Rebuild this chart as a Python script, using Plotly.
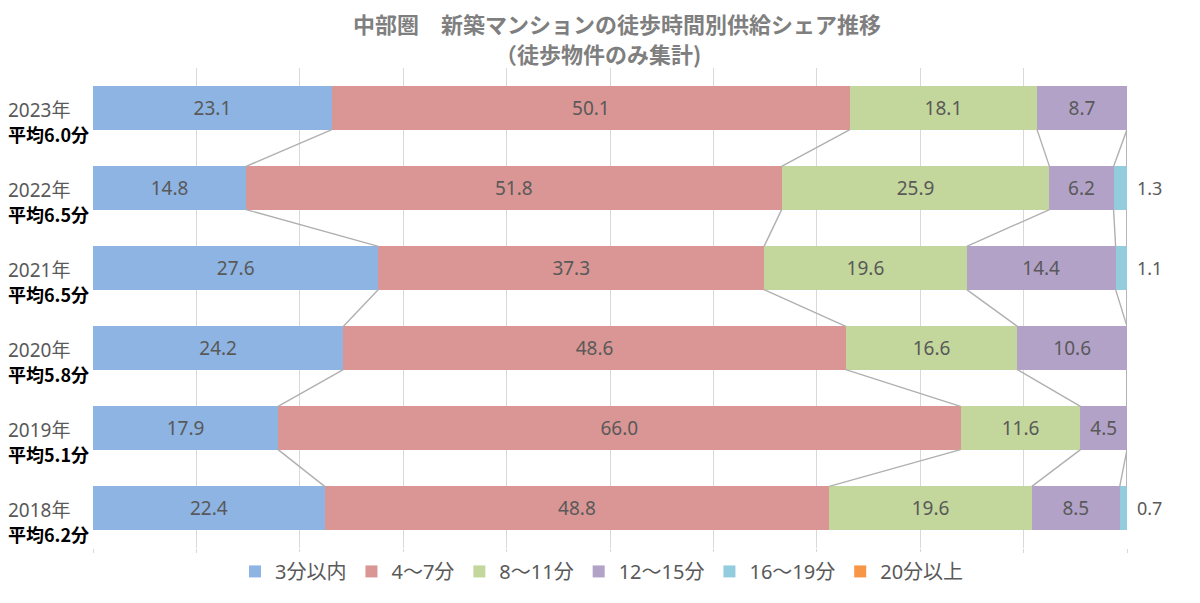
import plotly.graph_objects as go

# --- data ---
years = ["2023年", "2022年", "2021年", "2020年", "2019年", "2018年"]
averages = ["平均6.0分", "平均6.5分", "平均6.5分", "平均5.8分", "平均5.1分", "平均6.2分"]
series_names = ["3分以内", "4～7分", "8～11分", "12～15分", "16～19分", "20分以上"]
share_3 = [23.1, 14.8, 27.6, 24.2, 17.9, 22.4]
share_4_7 = [50.1, 51.8, 37.3, 48.6, 66.0, 48.8]
share_8_11 = [18.1, 25.9, 19.6, 16.6, 11.6, 19.6]
share_12_15 = [8.7, 6.2, 14.4, 10.6, 4.5, 8.5]
share_16_19 = [0.0, 1.3, 1.1, 0.0, 0.0, 0.7]
share_20 = [0.0, 0.0, 0.0, 0.0, 0.0, 0.0]

series_values = [share_3, share_4_7, share_8_11, share_12_15, share_16_19, share_20]
colors = ["#8DB4E2", "#D99694", "#C3D69B", "#B3A2C7", "#93CDDD", "#F79646"]

FONT = "Noto Sans, Noto Sans CJK JP, sans-serif"
TEXT_GRAY = "#595959"
BAR_W = 0.54

# page body adds an 8px margin, so the figure is drawn 8px in from the window edge
OFF = 8
W, H = 1200 - OFF, 603 - OFF
L, R, T, B = 93 - OFF, 73, 68 - OFF, 46
PW = W - L - R
PH = H - T - B


def px_x(x):  # window pixel -> paper x
    return (x - OFF - L) / PW


def px_y(y):  # window pixel -> paper y
    return 1 - (y - OFF - T) / PH


n = len(years)
ypos = [n - 1 - i for i in range(n)]  # 2023 on top

fig = go.Figure()

# series lines (connectors between cumulative boundaries)
cum = [[0.0] * n]
for vals in series_values:
    cum.append([cum[-1][i] + vals[i] for i in range(n)])
for s in range(1, len(cum)):
    xs, ys = [], []
    for i in range(n - 1):
        xs += [cum[s][i], cum[s][i + 1], None]
        ys += [ypos[i] - BAR_W / 2, ypos[i + 1] + BAR_W / 2, None]
    fig.add_trace(go.Scatter(
        x=xs, y=ys, mode="lines",
        line=dict(color="#B0B0B0", width=1.4),
        showlegend=False, hoverinfo="skip"
    ))

# stacked bars
for k, (name, vals) in enumerate(zip(series_names, series_values)):
    inside = k < 4
    fig.add_trace(go.Bar(
        name=name, y=ypos, x=vals, orientation="h", width=BAR_W,
        marker=dict(color=colors[k], line=dict(width=0)),
        text=[f"{v:.1f}" if (v > 0 and inside) else "" for v in vals],
        textposition="inside", insidetextanchor="middle",
        textfont=dict(family=FONT, size=19, color=TEXT_GRAY),
        constraintext="none",
    ))

annotations = []
# small 16-19 values labelled to the right of the bar
for i in range(n):
    if share_16_19[i] > 0:
        annotations.append(dict(
            x=cum[5][i], y=ypos[i], xref="x", yref="y",
            text=f"{share_16_19[i]:.1f}", showarrow=False,
            xanchor="left", xshift=8,
            font=dict(family=FONT, size=18, color=TEXT_GRAY)
        ))

# category labels: year on the bar centre, average below it
lab_x = px_x(6)
for i in range(n):
    annotations.append(dict(
        x=lab_x, y=ypos[i], xref="paper", yref="y", text=years[i],
        showarrow=False, xanchor="left", yanchor="middle", yshift=-2,
        font=dict(family=FONT, size=19, color=TEXT_GRAY)
    ))
    annotations.append(dict(
        x=lab_x, y=ypos[i], xref="paper", yref="y", text=f"<b>{averages[i]}</b>",
        showarrow=False, xanchor="left", yanchor="middle", yshift=-26,
        font=dict(family="Noto Sans CJK JP", size=18, color="#000000")
    ))

# title lines
title_font = dict(family="Noto Sans CJK JP", size=22, color="#7F7F7F", weight="bold")
annotations.append(dict(
    x=px_x(617), y=px_y(22), xref="paper", yref="paper",
    text="中部圏　新築マンションの徒歩時間別供給シェア推移", showarrow=False,
    xanchor="center", yanchor="middle", font=title_font
))
annotations.append(dict(
    x=px_x(598), y=px_y(53), xref="paper", yref="paper",
    text="（徒歩物件のみ集計)", showarrow=False,
    xanchor="center", yanchor="middle", font=title_font
))

fig.update_layout(
    barmode="stack",
    width=W, height=H,
    paper_bgcolor="white", plot_bgcolor="white",
    margin=dict(l=L, r=R, t=T, b=B),
    xaxis=dict(
        range=[0, 100], dtick=10, showgrid=True, gridcolor="#D9D9D9", gridwidth=1,
        showticklabels=False, zeroline=False, showline=False, automargin=False,
        ticks="outside", ticklen=4, tickcolor="#D9D9D9",
    ),
    yaxis=dict(
        range=[-0.5, n - 0.5], showticklabels=False,
        showgrid=False, zeroline=False, showline=False, automargin=False,
    ),
    legend=dict(
        orientation="h", x=px_x(602), xanchor="center", y=px_y(561), yanchor="top",
        font=dict(family=FONT, size=20, color=TEXT_GRAY),
        traceorder="normal", itemwidth=30,
    ),
    annotations=annotations,
    shapes=[dict(type="line", xref="paper", yref="paper",
                 x0=px_x(1197), x1=px_x(1197), y0=px_y(602), y1=px_y(1),
                 line=dict(color="#D0D0D0", width=1.5))],
)

fig.write_html("out.html")
